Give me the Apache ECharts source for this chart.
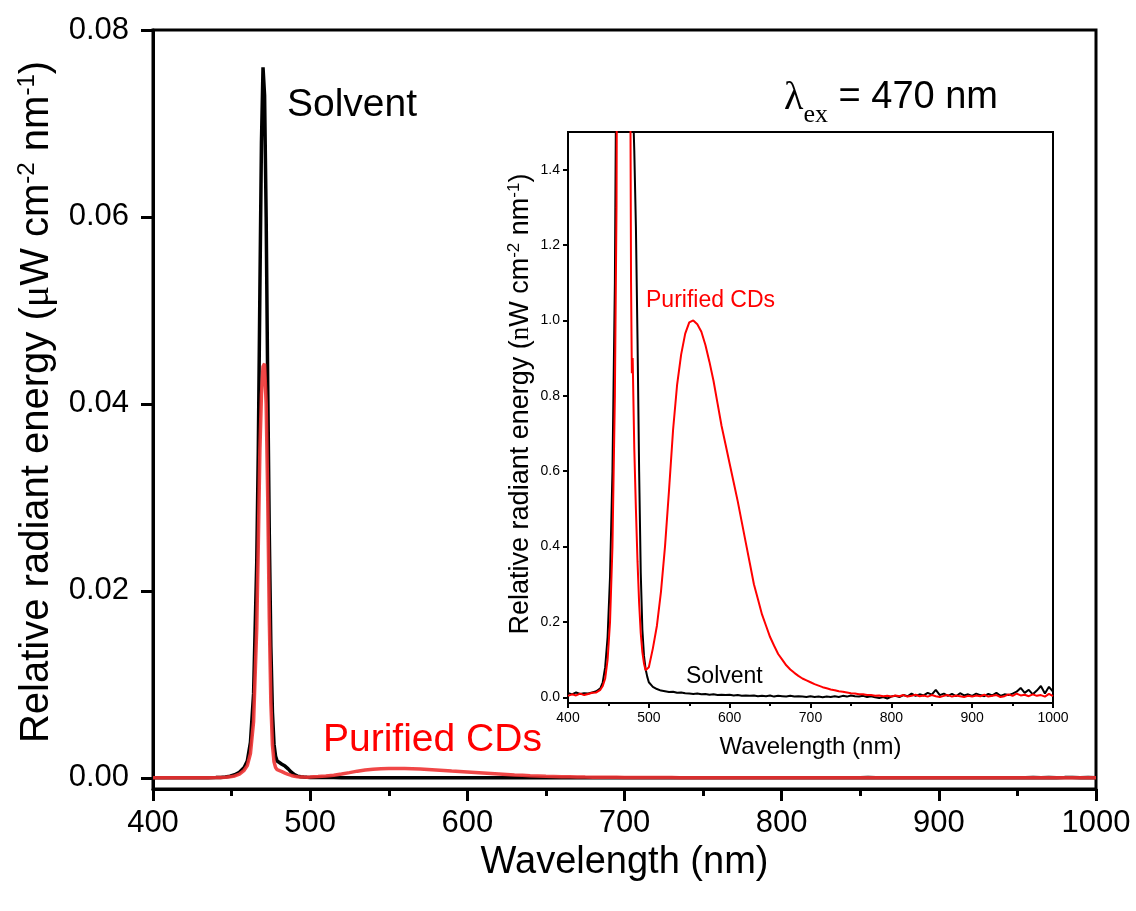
<!DOCTYPE html>
<html lang="en">
<head>
    <meta charset="UTF-8">
    <title>Radiant energy spectra</title>
    <script src="https://cdn.jsdelivr.net/npm/echarts@6/dist/echarts.min.js"></script>
    <style>
        html, body { margin: 0; padding: 0; background: #fff; }
        #chart { width: 1136px; height: 911px; }
    </style>
</head>
<body>
<div id="chart"></div>
<script>
    // wavelength (nm)
    var wavelengths = [400,405,410,415,420,425,430,435,440,443,446,449,452,455,458,460,462,464,466,467,468,469,470,471,472,473,474,475,476,477,478,479,480,482,484,486,488,490,492,494,496,498,
        500,505,510,515,520,525,530,535,540,545,550,555,560,565,570,575,580,585,590,595,
        600,605,610,615,620,625,630,635,640,645,650,655,660,665,670,675,680,685,690,695,
        700,705,710,715,720,725,730,735,740,745,750,755,760,765,770,775,780,785,790,795,
        800,805,810,815,820,825,830,835,840,845,850,855,860,865,870,875,880,885,890,895,
        900,905,910,915,920,925,930,935,940,945,950,955,960,965,970,975,980,985,990,995,1000];

    // solvent, nW cm-2 nm-1
    var solvent = [0.012,0.008,0.013,0.009,0.011,0.010,0.013,0.016,0.024,0.04,0.08,0.16,0.32,0.6,1.1,1.8,3.8,9,23,35,52,68,76,73,60,42,26,14,7,3.6,2.3,1.8,1.6,1.45,1.25,0.95,0.6,0.33,0.18,0.11,0.075,0.055,
        0.04,0.028,0.022,0.018,0.016,0.014,0.015,0.012,0.013,0.011,0.010,0.009,0.010,0.008,0.009,0.007,0.008,0.006,0.007,0.006,
        0.007,0.005,0.006,0.004,0.005,0.004,0.005,0.003,0.004,0.003,0.005,0.002,0.004,0.003,0.002,0.004,0.002,0.003,0.002,0.001,
        0.003,0.001,0.002,0.000,0.002,0.001,0.003,0.001,0.004,0.002,0.005,0.003,0.002,0.004,0.001,0.003,0.000,-0.002,0.001,-0.003,
        0.002,0.004,0.001,0.006,0.003,0.010,0.004,0.008,0.005,0.012,0.007,0.020,0.006,0.010,0.004,0.009,0.003,0.011,0.005,0.008,
        0.004,0.010,0.006,0.003,0.009,0.005,0.012,0.004,0.008,0.006,0.010,0.015,0.025,0.012,0.020,0.008,0.018,0.030,0.010,0.028,0.015];

    // purified CDs, nW cm-2 nm-1
    var cds = [0.004,0.008,0.005,0.010,0.006,0.009,0.012,0.013,0.02,0.03,0.05,0.1,0.2,0.4,0.8,1.3,2.6,6,16,25,35,41,44,44.3,40,30,17,8,3.5,1.7,1.1,0.86,0.9,0.66,0.5,0.36,0.25,0.17,0.12,0.09,0.072,0.07,
        0.08,0.13,0.19,0.28,0.4,0.55,0.71,0.83,0.91,0.965,0.995,1.0,0.99,0.97,0.935,0.89,0.84,0.78,0.72,0.67,
        0.62,0.57,0.52,0.465,0.41,0.355,0.30,0.26,0.22,0.19,0.16,0.137,0.115,0.1,0.085,0.074,0.065,0.057,0.05,0.045,
        0.04,0.035,0.031,0.027,0.024,0.021,0.019,0.016,0.015,0.013,0.011,0.010,0.008,0.008,0.006,0.006,0.004,0.005,0.003,0.004,
        0.002,0.005,0.003,0.006,0.002,0.004,0.007,0.003,0.005,0.002,0.006,0.003,0.001,0.004,0.006,0.002,0.005,0.003,0.001,0.004,
        0.002,0.005,0.003,0.007,0.002,0.004,0.006,0.001,0.003,0.008,0.004,0.010,0.005,0.007,0.003,0.008,0.004,0.006,0.002,0.009,0.003];

    var mainYTicks = [0, 0.02, 0.04, 0.06, 0.08];
    var insetYTicks = [0, 0.2, 0.4, 0.6, 0.8, 1.0, 1.2, 1.4];

    // main panel in uW, inset in nW
    function toPairs(vals, scale) {
        return wavelengths.map(function (w, i) { return [w, vals[i] * scale]; });
    }

    var sans = 'Liberation Sans, Arial, sans-serif';
    var serif = 'Liberation Serif, Times New Roman, serif';

    var chart = echarts.init(document.getElementById('chart'));
    chart.setOption({
        animation: false,
        backgroundColor: '#fff',
        grid: [
            { left: 153, top: 30, width: 943, height: 759, show: true, borderColor: '#000', borderWidth: 3 },
            { left: 568, top: 132, width: 485, height: 571, show: true, borderColor: '#000', borderWidth: 2 }
        ],
        xAxis: [
            {
                gridIndex: 0, type: 'value', min: 400, max: 1000, interval: 100,
                axisLine: { onZero: false, lineStyle: { color: '#000', width: 3 } },
                axisTick: { length: 12, lineStyle: { width: 3 } },
                minorTick: { show: true, splitNumber: 2, length: 7, lineStyle: { color: '#000', width: 3 } },
                splitLine: { show: false },
                axisLabel: { margin: 19, fontSize: 31, color: '#000', fontFamily: sans, formatter: function (v) { return String(v); } },
                name: 'Wavelength (nm)', nameLocation: 'middle', nameGap: 48,
                nameTextStyle: { fontSize: 38, color: '#000', fontFamily: sans }
            },
            {
                gridIndex: 1, type: 'value', min: 400, max: 1000, interval: 100,
                axisLine: { onZero: false, lineStyle: { color: '#000', width: 2 } },
                axisTick: { length: 5, lineStyle: { width: 2 } },
                minorTick: { show: true, splitNumber: 2, length: 3, lineStyle: { color: '#000', width: 2 } },
                splitLine: { show: false },
                axisLabel: { margin: 8, fontSize: 14, color: '#000', fontFamily: sans, formatter: function (v) { return String(v); } },
                name: 'Wavelength (nm)', nameLocation: 'middle', nameGap: 32,
                nameTextStyle: { fontSize: 24, color: '#000', fontFamily: sans }
            }
        ],
        yAxis: [
            {
                gridIndex: 0, type: 'value', min: -0.0012, max: 0.08,
                axisLine: { show: true, onZero: false, lineStyle: { color: '#000', width: 3 } },
                axisTick: { show: true, length: 12, customValues: mainYTicks, lineStyle: { width: 3 } },
                splitLine: { show: false },
                axisLabel: {
                    margin: 24, fontSize: 31, color: '#000', fontFamily: sans, customValues: mainYTicks,
                    formatter: function (v) { return v.toFixed(2); }
                }
            },
            {
                gridIndex: 1, type: 'value', min: -0.015, max: 1.5,
                axisLine: { show: true, onZero: false, lineStyle: { color: '#000', width: 2 } },
                axisTick: { show: true, length: 5, customValues: insetYTicks, lineStyle: { width: 2 } },
                splitLine: { show: false },
                axisLabel: {
                    margin: 8, fontSize: 14, color: '#000', fontFamily: sans, customValues: insetYTicks,
                    formatter: function (v) { return v.toFixed(1); }
                }
            }
        ],
        series: [
            {
                name: 'Solvent', type: 'line', xAxisIndex: 0, yAxisIndex: 0,
                data: toPairs(solvent, 0.001), showSymbol: false, z: 2,
                lineStyle: { color: '#000', width: 3.5 }
            },
            {
                name: 'Purified CDs', type: 'line', xAxisIndex: 0, yAxisIndex: 0,
                data: toPairs(cds, 0.001), showSymbol: false, z: 3,
                lineStyle: { color: '#ee3333', width: 3.5, opacity: 0.9 }
            },
            {
                name: 'Solvent inset', type: 'line', xAxisIndex: 1, yAxisIndex: 1,
                data: toPairs(solvent, 1), showSymbol: false, z: 2,
                lineStyle: { color: '#000', width: 2 }
            },
            {
                name: 'CDs inset', type: 'line', xAxisIndex: 1, yAxisIndex: 1,
                data: toPairs(cds, 1), showSymbol: false, z: 3,
                lineStyle: { color: '#ff0000', width: 2 }
            }
        ],
        graphic: [
            {
                // main y axis title
                type: 'text', x: 37, y: 402, rotation: Math.PI / 2,
                style: {
                    text: '{a|Relative radiant energy (}{g|μ}{a|W cm}{s|-2}{a| nm}{s|-1}{a|)}',
                    align: 'center', verticalAlign: 'middle',
                    rich: {
                        a: { fontSize: 40, fontFamily: sans, fill: '#000', lineHeight: 44 },
                        g: { fontSize: 40, fontFamily: serif, fill: '#000', lineHeight: 44 },
                        s: { fontSize: 24, fontFamily: sans, fill: '#000', verticalAlign: 'top', lineHeight: 26 }
                    }
                }
            },
            {
                // inset y axis title
                type: 'text', x: 521, y: 404, rotation: Math.PI / 2,
                style: {
                    text: '{a|Relative radiant energy (}{g|n}{a|W cm}{s|-2}{a| nm}{s|-1}{a|)}',
                    align: 'center', verticalAlign: 'middle',
                    rich: {
                        a: { fontSize: 27, fontFamily: sans, fill: '#000', lineHeight: 31 },
                        g: { fontSize: 27, fontFamily: serif, fill: '#000', lineHeight: 31 },
                        s: { fontSize: 17, fontFamily: sans, fill: '#000', verticalAlign: 'top', lineHeight: 18 }
                    }
                }
            },
            { type: 'text', left: 287, top: 86, style: { text: 'Solvent', fontSize: 39, fontFamily: sans, fill: '#000' } },
            { type: 'text', left: 323, top: 721, style: { text: 'Purified CDs', fontSize: 39, fontFamily: sans, fill: '#ff0000' } },
            {
                type: 'text', left: 784, top: 78,
                style: {
                    text: '{l|λ}{e|ex}{a| = 470 nm}',
                    rich: {
                        l: { fontSize: 40, fontFamily: serif, fill: '#000', lineHeight: 44 },
                        e: { fontSize: 26, fontFamily: serif, fill: '#000', verticalAlign: 'bottom', lineHeight: 26, padding: [0, 0, -8, 0] },
                        a: { fontSize: 38, fontFamily: sans, fill: '#000', lineHeight: 44 }
                    }
                }
            },
            { type: 'text', left: 646, top: 289, style: { text: 'Purified CDs', fontSize: 23, fontFamily: sans, fill: '#ff0000' } },
            { type: 'text', left: 686, top: 665, style: { text: 'Solvent', fontSize: 23, fontFamily: sans, fill: '#000' } }
        ]
    });
</script>
</body>
</html>
